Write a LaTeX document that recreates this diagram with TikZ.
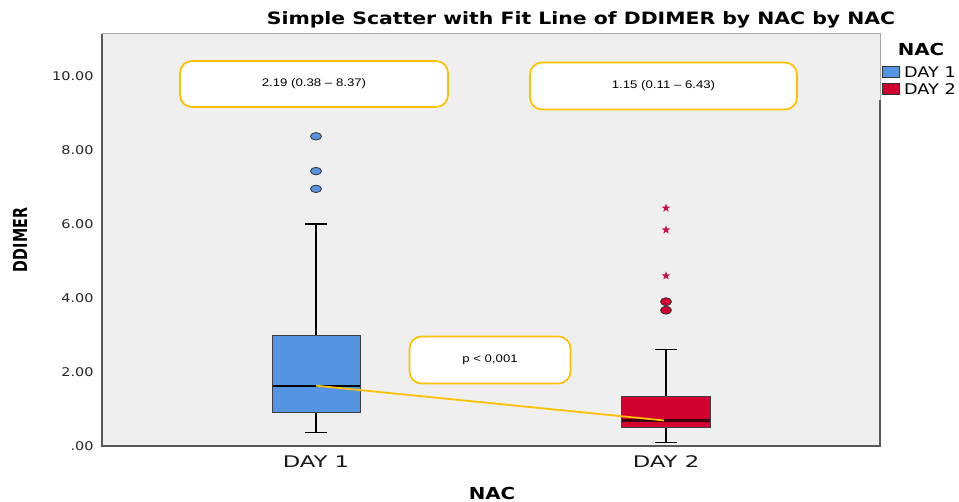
\documentclass[tikz,border=0pt]{standalone}
\usepackage{fontspec}
\setmainfont{DejaVu Sans}[FakeStretch=1.2]
\newfontfamily\notefont{Liberation Sans}[FakeStretch=1.2]
\newfontfamily\catfont{DejaVu Sans}[FakeStretch=1.42]
\newfontfamily\upfont{DejaVu Sans}
\usetikzlibrary{positioning,shapes.geometric}

\definecolor{plotbg}{RGB}{239,239,239}
\definecolor{dayone}{RGB}{84,148,227}
\definecolor{daytwo}{RGB}{210,0,46}
\definecolor{noteedge}{RGB}{255,192,0}
\definecolor{starred}{RGB}{200,20,75}

\begin{document}
\begin{tikzpicture}[x=1pt,y=-1pt,
	frame/.style={draw=black!65,line width=1.3pt},
	note/.style={draw=noteedge,line width=1.7pt,fill=white,rounded corners=12pt,font=\notefont\fontsize{11}{12}\selectfont},
	boxone/.style={draw=black!75,fill=dayone,line width=0.9pt},
	boxtwo/.style={draw=black!75,fill=daytwo,line width=0.9pt},
	whisker/.style={draw=black,line width=1.3pt},
	outone/.style={ellipse,draw=black!80,fill=dayone,inner sep=0pt,minimum width=11pt,minimum height=7.5pt,line width=0.8pt},
	outtwo/.style={ellipse,draw=black!80,fill=daytwo,inner sep=0pt,minimum width=11pt,minimum height=8pt,line width=0.8pt},
	extreme/.style={star,star points=5,star point ratio=2.4,fill=starred,inner sep=0pt,minimum size=9pt},
	tick/.style={anchor=east,font=\fontsize{12}{12}\selectfont,text=black!85},
	catlabel/.style={font=\catfont\fontsize{16}{16}\selectfont,text=black!90},
	axtitle/.style={font=\bfseries\fontsize{16.5}{17}\selectfont},
	legbox/.style={draw=black!80,line width=0.8pt},
	legtext/.style={anchor=west,inner sep=0pt,font=\fontsize{14.7}{15}\selectfont}]

\useasboundingbox[fill=white] (0,0) rectangle (959,502);

\fill[plotbg] (102,34) rectangle (880,446);
\draw[black!35,line width=1pt] (102,34) -- (880,34) -- (880,100);
\draw[frame] (880,100) -- (880,446) -- (102,446) -- (102,34);

\node[font=\bfseries\fontsize{17}{18}\selectfont] (title) at (581,20) {Simple Scatter with Fit Line of DDIMER by NAC by NAC};

\node[font=\upfont\bfseries\fontsize{14.3}{15}\selectfont,rotate=90,yscale=1.35] (ylabel) at (20,240) {DDIMER};
\node[axtitle] (xlabel) at (492,493) {NAC};

\node[catlabel] (cat1) at (316,462) {DAY 1};
\node[catlabel] (cat2) at (666,462) {DAY 2};

\begin{scope}[shift={(0,446)},y=37pt]
	\foreach \v/\t in {0/.00,2/2.00,4/4.00,6/6.00,8/8.00,10/10.00}
		\node[tick] (tick\v) at (97,\v) {\t};

	\draw[whisker] (316,3.0) -- (316,6.0) (305,6.0) -- (327,6.0);
	\draw[whisker] (316,0.9) -- (316,0.37) (305,0.37) -- (327,0.37);
	\draw[boxone] (272.7,0.9) rectangle (360,3.0);
	\draw[black,line width=2.2pt] (272.7,1.63) -- (360,1.63);
	\coordinate (med1) at (316,1.63);

	\draw[whisker] (666,1.35) -- (666,2.6) (655,2.6) -- (677,2.6);
	\draw[whisker] (666,0.5) -- (666,0.1) (655,0.1) -- (677,0.1);
	\draw[boxtwo] (621.7,0.5) rectangle (710,1.35);
	\draw[black!70!daytwo,line width=2.8pt] (621.7,0.69) -- (710,0.69);
	\coordinate (med2) at (664,0.69);

	\node[outone] (o1) at (316,8.37) {};
	\node[outone] (o2) at (316,7.43) {};
	\node[outone] (o3) at (316,6.95) {};
	\node[outtwo] (o4) at (666,3.9) {};
	\node[outtwo] (o5) at (666,3.67) {};
	\node[extreme] (e1) at (666,6.43) {};
	\node[extreme] (e2) at (666,5.84) {};
	\node[extreme] (e3) at (666,4.6) {};

	\draw[noteedge,line width=1.8pt] (med1) -- (med2);
\end{scope}

\node[note,minimum width=268pt,minimum height=46pt] (range1) at (314,84) {2.19 (0.38 – 8.37)};
\node[note,minimum width=267pt,minimum height=47pt] (range2) at (663.5,86) {1.15 (0.11 – 6.43)};
\node[note,minimum width=161pt,minimum height=47pt] (pval) at (490,360) {p < 0,001};

\node[axtitle] (legtitle) at (921,49) {NAC};
\draw[legbox,fill=dayone] (882,66) rectangle (899,77);
\draw[legbox,fill=daytwo] (882,83) rectangle (899,94);
\node[legtext] (leg1) at (904,72) {DAY 1};
\node[legtext] (leg2) [below=6pt of leg1.south west,anchor=north west] {DAY 2};

\end{tikzpicture}
\end{document}
